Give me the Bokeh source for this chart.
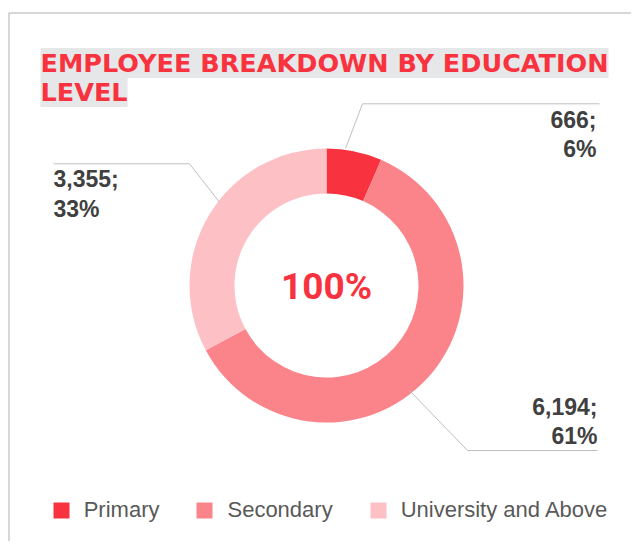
import math
from bokeh.plotting import figure
from bokeh.models import ColumnDataSource, Range1d
from bokeh.core.properties import value
from bokeh.embed import file_html
from bokeh.resources import INLINE

# ---------------- data ----------------
title_lines = ["EMPLOYEE BREAKDOWN BY EDUCATION", "LEVEL"]
categories = ["Primary", "Secondary", "University and Above"]
counts = [666, 6194, 3355]
percents = [6, 61, 33]
center_label = "100%"

# ---------------- style / layout ----------------
colors = ["#F9323F", "#FB848B", "#FDC0C4"]
RED = "#F9323F"
DARK = "#404040"
W, H = 631, 541


def px(X, Y):
    """picture pixel -> data coords (1 unit = 1 px, y up)"""
    return X, H - Y


p = figure(width=W, height=H, x_range=Range1d(0, W), y_range=Range1d(0, H),
           output_backend="svg", toolbar_location=None, min_border=0,
           x_axis_location=None, y_axis_location=None)
p.grid.visible = False
p.outline_line_color = None
p.background_fill_color = "white"
p.border_fill_color = "white"

# frame lines (top + left)
bx0, by0 = px(8.5, 12.5)
bx1, by1 = px(W, H)
p.line(x=[bx0, bx0, bx1], y=[by1, by0, by0], line_color="#CACACA", line_width=1.5)

# ---------------- donut ----------------
total = sum(counts)
starts, ends = [], []
cum = 0
for v in counts:
    starts.append(math.pi / 2 - 2 * math.pi * cum / total)
    cum += v
    ends.append(math.pi / 2 - 2 * math.pi * cum / total)

src = ColumnDataSource(dict(category=categories, count=counts, color=colors,
                            start=starts, end=ends))
cx, cy = px(326, 285)
p.annular_wedge(x=cx, y=cy, inner_radius=92, outer_radius=137,
                inner_radius_units="screen", outer_radius_units="screen",
                start_angle="start", end_angle="end", direction="clock",
                fill_color="color", line_color=None, legend_field="category",
                source=src)

# centre label
tx, ty = px(326, 286)
p.text(x=[tx], y=[ty], text=[center_label], text_font=value("Roboto"),
       text_font_style="bold", text_font_size="37px", text_color=RED,
       text_align="center", text_baseline="alphabetic")

# ---------------- title ----------------
for line, Y in zip(title_lines, [62.5, 91.5]):
    x0, y0 = px(40, Y)
    p.text(x=[x0], y=[y0], text=[line], text_font=value("DejaVu Sans"),
           text_font_style="bold", text_font_size="25.5px", text_color=RED,
           text_align="left", text_baseline="alphabetic",
           background_fill_color="#E6E7E8", padding=0)

# ---------------- data labels + leader lines ----------------
label_layout = [
    # anchor X, baseline1 Y, baseline2 Y, align, leader points
    (596, 119.0, 148.0, "right", [(345, 148), (362, 103.3), (599, 103.3)]),
    (597, 406.5, 435.0, "right", [(409, 390), (467, 450), (597, 450)]),
    (53, 178.0, 208.0, "left", [(219, 201.7), (189, 163.3), (53, 163.3)]),
]
for i, (AX, Y1, Y2, align, pts) in enumerate(label_layout):
    lx, ly = zip(*[px(a, b) for a, b in pts])
    p.line(x=list(lx), y=list(ly), line_color="#BFBFBF", line_width=1)
    lines = [f"{counts[i]:,};", f"{percents[i]}%"]
    for txt, Y in zip(lines, [Y1, Y2]):
        x0, y0 = px(AX, Y)
        p.text(x=[x0], y=[y0], text=[txt], text_font=value("Liberation Sans"),
               text_font_style="bold", text_font_size="23px", text_color=DARK,
               text_align=align, text_baseline="alphabetic")

# ---------------- legend ----------------
lg = p.legend[0]
lg.orientation = "horizontal"
lg.location = (50.7, 18)
lg.glyph_width = 20
lg.glyph_height = 20
lg.label_standoff = 13
lg.spacing = 35
lg.padding = 0
lg.margin = 0
lg.border_line_color = None
lg.background_fill_alpha = 0
lg.label_text_font = "Liberation Sans"
lg.label_text_font_size = "22px"
lg.label_text_color = "#595959"

open("out.html", "w").write(file_html(p, INLINE))
